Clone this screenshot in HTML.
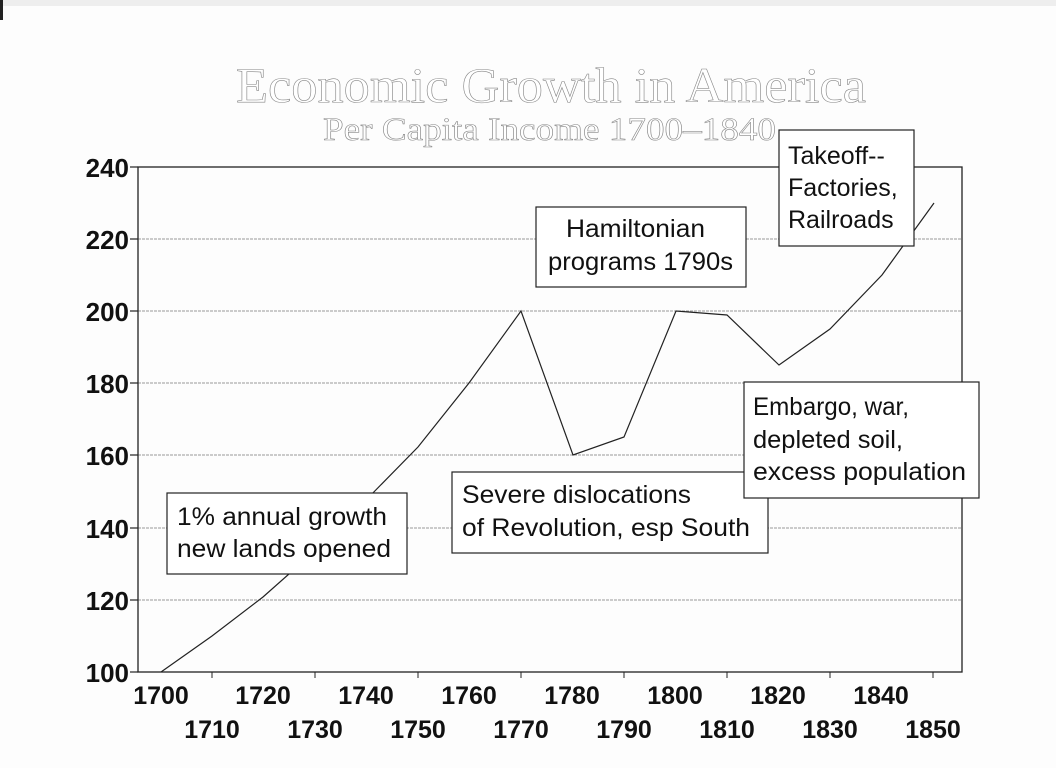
<!DOCTYPE html>
<html><head><meta charset="utf-8"><style>
html,body{margin:0;padding:0;background:#fff;}
svg{display:block;}
</style></head><body>
<svg width="1056" height="768" viewBox="0 0 1056 768" xmlns="http://www.w3.org/2000/svg">
<rect width="1056" height="768" fill="#fdfdfd"/>
<rect x="0" y="0" width="1056" height="6" fill="#eee"/>
<rect x="0" y="0" width="3" height="20" fill="#222"/>
<text x="236" y="102" font-family="Liberation Serif, serif" font-size="50" fill="#fff" stroke="#888" stroke-width="0.6" textLength="630" lengthAdjust="spacingAndGlyphs">Economic Growth in America</text>
<text x="323" y="140" font-family="Liberation Serif, serif" font-size="33" fill="#fff" stroke="#888" stroke-width="0.6" textLength="453" lengthAdjust="spacingAndGlyphs">Per Capita Income 1700–1840</text>
<g stroke="#999" stroke-width="1" stroke-dasharray="3,1">
<line x1="138" y1="239" x2="962" y2="239"/>
<line x1="138" y1="311" x2="962" y2="311"/>
<line x1="138" y1="383" x2="962" y2="383"/>
<line x1="138" y1="455" x2="962" y2="455"/>
<line x1="138" y1="528" x2="962" y2="528"/>
<line x1="138" y1="600" x2="962" y2="600"/>
</g>
<rect x="138" y="167" width="824" height="505" fill="none" stroke="#222" stroke-width="1.3"/>
<g stroke="#222" stroke-width="1.2">
<line x1="130" y1="167" x2="138" y2="167"/><line x1="130" y1="239" x2="138" y2="239"/>
<line x1="130" y1="311" x2="138" y2="311"/><line x1="130" y1="383" x2="138" y2="383"/>
<line x1="130" y1="455" x2="138" y2="455"/><line x1="130" y1="528" x2="138" y2="528"/>
<line x1="130" y1="600" x2="138" y2="600"/><line x1="130" y1="672" x2="138" y2="672"/>
</g>
<g font-family="Liberation Sans, sans-serif" font-weight="bold" font-size="26" fill="#111" text-anchor="end">
<text x="129" y="177">240</text><text x="129" y="249">220</text><text x="129" y="321">200</text>
<text x="129" y="393">180</text><text x="129" y="465">160</text><text x="129" y="538">140</text>
<text x="129" y="610">120</text><text x="129" y="682">100</text>
</g>
<g font-family="Liberation Sans, sans-serif" font-weight="bold" font-size="25" fill="#111" text-anchor="middle">
<text x="161" y="704">1700</text><text x="263" y="704">1720</text><text x="366" y="704">1740</text>
<text x="469" y="704">1760</text><text x="572" y="704">1780</text><text x="675" y="704">1800</text>
<text x="778" y="704">1820</text><text x="881" y="704">1840</text>
<text x="212" y="738">1710</text><text x="315" y="738">1730</text><text x="418" y="738">1750</text>
<text x="521" y="738">1770</text><text x="624" y="738">1790</text><text x="727" y="738">1810</text>
<text x="830" y="738">1830</text><text x="933" y="738">1850</text>
</g>
<g stroke="#222" stroke-width="1">
<line x1="212" y1="672" x2="212" y2="678"/><line x1="315" y1="672" x2="315" y2="678"/>
<line x1="418" y1="672" x2="418" y2="678"/><line x1="521" y1="672" x2="521" y2="678"/>
<line x1="624" y1="672" x2="624" y2="678"/><line x1="727" y1="672" x2="727" y2="678"/>
<line x1="830" y1="672" x2="830" y2="678"/><line x1="933" y1="672" x2="933" y2="678"/>
</g>
<polyline fill="none" stroke="#222" stroke-width="1.2" points="161,672 212,636 263,597 315,551 366,500 418,447 469,383 521,311 573,455 624,437 676,311 727,315 779,365 830,329 882,275 934,203"/>
<g font-family="Liberation Sans, sans-serif" font-size="25" fill="#111">
<rect x="167" y="493" width="240" height="81" fill="#fff" stroke="#222" stroke-width="1.2"/>
<text x="177" y="525" textLength="210" lengthAdjust="spacingAndGlyphs">1% annual growth</text><text x="177" y="557" textLength="214" lengthAdjust="spacingAndGlyphs">new lands opened</text>
<rect x="452" y="472" width="316" height="81" fill="#fff" stroke="#222" stroke-width="1.2"/>
<text x="462" y="503" textLength="229" lengthAdjust="spacingAndGlyphs">Severe dislocations</text><text x="462" y="536" textLength="288" lengthAdjust="spacingAndGlyphs">of Revolution, esp South</text>
<rect x="536" y="207" width="210" height="80" fill="#fff" stroke="#222" stroke-width="1.2"/>
<text x="566" y="237" textLength="139" lengthAdjust="spacingAndGlyphs">Hamiltonian</text><text x="548" y="270" textLength="185" lengthAdjust="spacingAndGlyphs">programs 1790s</text>
<rect x="779" y="130" width="135" height="116" fill="#fff" stroke="#222" stroke-width="1.2"/>
<text x="788" y="164">Takeoff--</text><text x="788" y="196">Factories,</text><text x="788" y="228">Railroads</text>
<rect x="744" y="382" width="235" height="116" fill="#fff" stroke="#222" stroke-width="1.2"/>
<text x="753" y="415" textLength="156" lengthAdjust="spacingAndGlyphs">Embargo, war,</text><text x="753" y="448" textLength="150" lengthAdjust="spacingAndGlyphs">depleted soil,</text><text x="753" y="480" textLength="213" lengthAdjust="spacingAndGlyphs">excess population</text>
</g>
</svg>
</body></html>
